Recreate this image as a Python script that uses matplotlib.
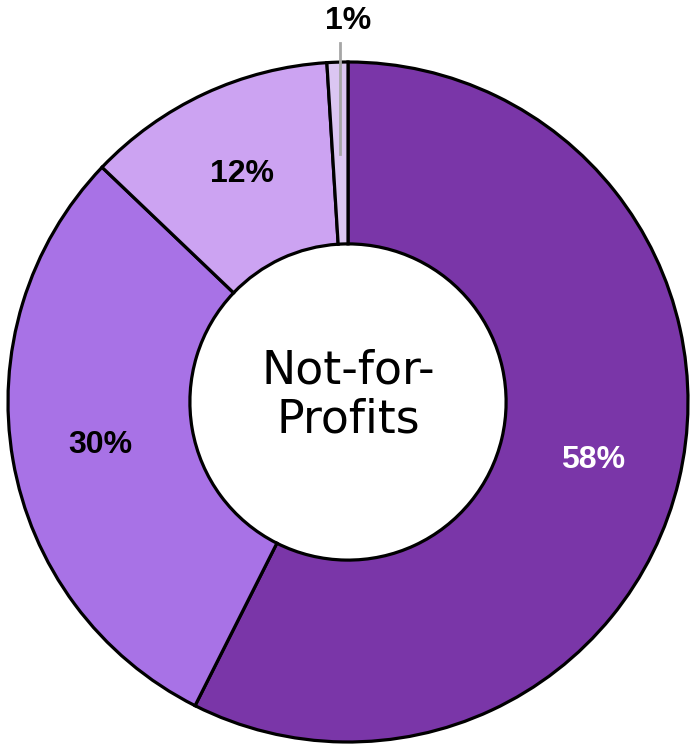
import matplotlib.pyplot as plt
from matplotlib import font_manager
import numpy as np

# slice values (as shown on the chart, clockwise from 12 o'clock)
values = [58, 30, 12, 1]
pct_labels = ["58%", "30%", "12%", "1%"]
colors = ["#7A36A8", "#A872E6", "#CCA3F2", "#DBC6F2"]
label_colors = ["white", "black", "black", "black"]
center_text = "Not-for-\nProfits"

# pick the regular-width Liberation Sans Bold (not the Narrow variant)
bold_path = None
for f in font_manager.fontManager.ttflist:
    if f.name == "Liberation Sans" and f.weight == 700 and f.style == "normal" \
            and "Narrow" not in f.fname:
        bold_path = f.fname
        break
if bold_path:
    lab_font = dict(fontproperties=font_manager.FontProperties(fname=bold_path, size=23))
else:
    lab_font = dict(fontsize=22, fontweight="bold", family="DejaVu Sans")

fig = plt.figure(figsize=(6.9, 7.45), dpi=100)
ax = fig.add_axes([0, 0, 1, 1])

R = 1.0
width = 0.535

wedges, _ = ax.pie(values, colors=colors, startangle=90, counterclock=False,
                   radius=R, wedgeprops=dict(width=width, edgecolor="black", linewidth=2.3))

for w, lab, c in zip(wedges, pct_labels, label_colors):
    mid = np.deg2rad((w.theta1 + w.theta2) / 2)
    if lab == "1%":
        # small slice: label sits above the ring with a leader line
        x0 = 0.73 * np.cos(mid)
        ax.plot([x0, x0], [0.73, 1.056], color="#A6A6A6", linewidth=2, zorder=5)
        ax.text(0.0, 1.12, lab, ha="center", va="center", color=c, **lab_font)
    else:
        r = 0.74
        ax.text(r * np.cos(mid), r * np.sin(mid), lab, ha="center", va="center",
                color=c, **lab_font)

ax.text(0.0, 0.02, center_text, ha="center", va="center", fontsize=33,
        family="DejaVu Sans", linespacing=1.12, color="black")

ax.set_aspect("equal")
ax.set_xlim(-348 / 340, (690 - 348) / 340)
ax.set_ylim(-(745 - 402) / 340, 402 / 340)
ax.axis("off")

fig.savefig("out.png", dpi=100, facecolor="white")
